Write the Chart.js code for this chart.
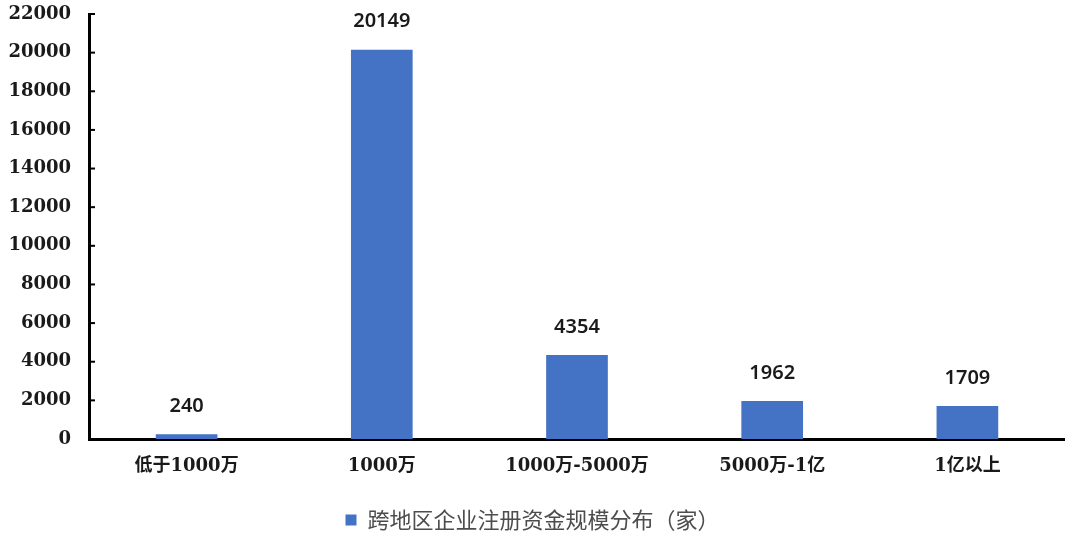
<!DOCTYPE html>
<html>
<head>
<meta charset="utf-8">
<script src="https://cdn.jsdelivr.net/npm/chart.js@4/dist/chart.umd.min.js"></script>
<style>
  html, body { margin: 0; padding: 0; background: #fff; }
  #wrap { width: 1065px; height: 538px; }
</style>
</head>
<body>
<div id="wrap"><canvas id="capitalChart" width="1065" height="538"></canvas></div>
<script>
const categories = ['低于1000万', '1000万', '1000万-5000万', '5000万-1亿', '1亿以上'];
const companies = [240, 20149, 4354, 1962, 1709];
const seriesName = '跨地区企业注册资金规模分布（家）';
const yTicks = [0, 2000, 4000, 6000, 8000, 10000, 12000, 14000, 16000, 18000, 20000, 22000];

const barColour = '#4472C4';
const axisFont = { family: '"DejaVu Serif", "Noto Sans CJK SC"', size: 18, weight: 'bold' };

// value labels above each bar
const valueLabels = {
  id: 'valueLabels',
  afterDatasetsDraw(chart) {
    const ctx = chart.ctx;
    const meta = chart.getDatasetMeta(0);
    ctx.save();
    ctx.font = '600 20px "Noto Sans"';
    ctx.fillStyle = '#1a1a1a';
    ctx.textAlign = 'center';
    ctx.textBaseline = 'middle';
    meta.data.forEach((bar, i) => {
      ctx.fillText(String(companies[i]), bar.x, bar.y - 28);
    });
    ctx.restore();
  }
};

// y ticks drawn inward, like the source
const innerTicks = {
  id: 'innerTicks',
  afterDraw(chart) {
    const ctx = chart.ctx;
    const y = chart.scales.y;
    const x0 = chart.chartArea.left;
    ctx.save();
    ctx.strokeStyle = '#000';
    ctx.lineWidth = 2;
    y.ticks.forEach(t => {
      const py = y.getPixelForValue(t.value);
      ctx.beginPath();
      ctx.moveTo(x0, py);
      ctx.lineTo(x0 + 6, py);
      ctx.stroke();
    });
    ctx.restore();
  }
};

const ctx = document.getElementById('capitalChart').getContext('2d');
new Chart(ctx, {
  type: 'bar',
  data: {
    labels: categories,
    datasets: [{
      label: seriesName,
      data: companies,
      backgroundColor: barColour,
      barPercentage: 0.316,
      categoryPercentage: 1
    }]
  },
  options: {
    responsive: false,
    animation: false,
    layout: { padding: { top: 14, right: 0, left: 0, bottom: -3 } },
    plugins: {
      legend: {
        position: 'bottom',
        labels: {
          boxWidth: 11,
          boxHeight: 11,
          padding: 11,
          color: '#4d4d4d',
          font: { family: '"Noto Sans CJK SC"', size: 22 }
        }
      },
      tooltip: { enabled: false }
    },
    scales: {
      x: {
        afterFit(scale) { scale.height = 59; },
        grid: { display: false, drawTicks: false },
        border: { color: '#000', width: 3 },
        ticks: { color: '#1a1a1a', font: axisFont, padding: 17 }
      },
      y: {
        min: 0,
        max: 22000,
        afterBuildTicks(scale) {
          scale.ticks = yTicks.map(v => ({ value: v }));
        },
        afterFit(scale) {
          scale.width = 89;
          scale.paddingTop = 0;
          scale.paddingBottom = 0;
        },
        grid: { display: false, drawTicks: false },
        border: { color: '#000', width: 3 },
        ticks: {
          color: '#1a1a1a',
          font: axisFont,
          padding: 18,
          callback: v => String(v)
        }
      }
    }
  },
  plugins: [valueLabels, innerTicks]
});
</script>
</body>
</html>
